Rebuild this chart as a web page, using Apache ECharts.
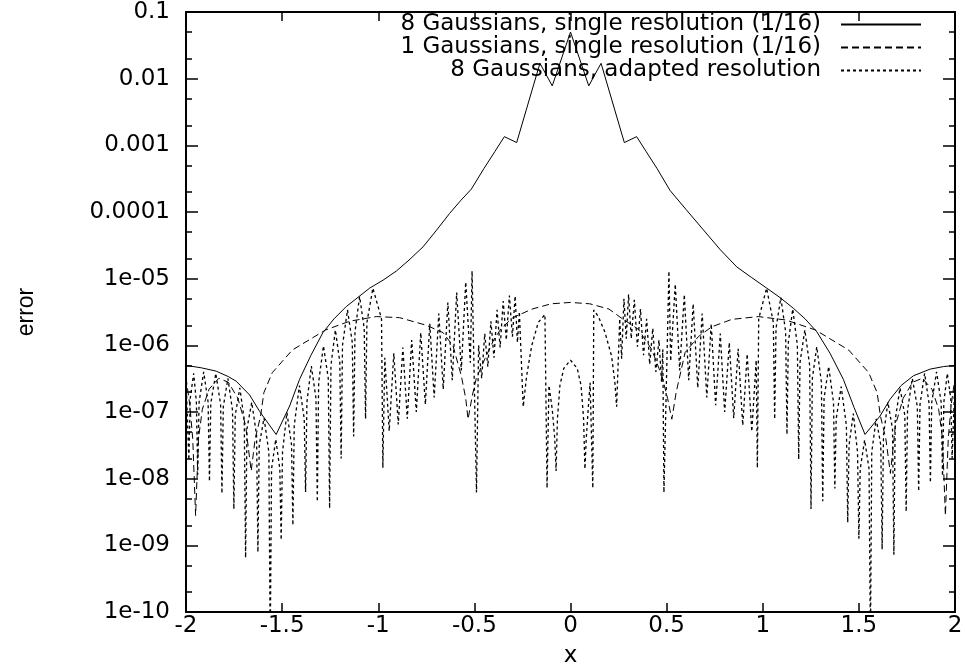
<!DOCTYPE html>
<html>
<head>
<meta charset="UTF-8">
<title>error vs x</title>
<script src="https://cdn.jsdelivr.net/npm/echarts@6/dist/echarts.min.js"></script>
<style>
  html, body { margin: 0; padding: 0; background: #fff; }
  #chart { width: 965px; height: 669px; }
</style>
</head>
<body>
<div id="chart"></div>
<script>
  // legend entries, in drawing order
  const seriesNames = [
    '8 Gaussians, single resolution (1/16)',
    '1 Gaussians, single resolution (1/16)',
    '8 Gaussians, adapted resolution'
  ];

  // y tick labels, from 1e-10 up to 0.1
  const yTickLabels = ['1e-10', '1e-09', '1e-08', '1e-07', '1e-06', '1e-05', '0.0001', '0.001', '0.01', '0.1'];
  const yMinorTicks = [2e-10, 5e-10, 2e-9, 5e-9, 2e-8, 5e-8, 2e-7, 5e-7, 2e-6, 5e-6,
                       2e-5, 5e-5, 2e-4, 5e-4, 2e-3, 5e-3, 2e-2, 5e-2];

  // 8 Gaussians, single resolution (solid)
  const single8 = [
    [-2.0, 5.0e-7], [-1.92, 4.6e-7], [-1.843, 4.1e-7], [-1.78, 3.4e-7], [-1.739, 2.9e-7],
    [-1.669, 1.8e-7], [-1.617, 1.02e-7], [-1.531, 4.6e-8], [-1.461, 1.23e-7], [-1.409, 3.1e-7],
    [-1.35, 7.1e-7], [-1.288, 1.55e-6], [-1.23, 2.5e-6], [-1.167, 3.8e-6], [-1.1, 5.4e-6],
    [-1.045, 7.2e-6], [-0.975, 9.5e-6], [-0.906, 1.3e-5], [-0.84, 1.9e-5], [-0.767, 3.0e-5],
    [-0.7, 5.2e-5], [-0.629, 9.5e-5], [-0.57, 1.5e-4], [-0.516, 2.2e-4], [-0.45, 4.5e-4],
    [-0.393, 8.1e-4], [-0.344, 1.35e-3], [-0.28, 1.1e-3], [-0.159, 1.7e-2], [-0.095, 7.8e-3],
    [0, 5.0e-2],
    [0.095, 7.8e-3], [0.159, 1.7e-2], [0.28, 1.1e-3], [0.344, 1.35e-3], [0.393, 8.1e-4],
    [0.45, 4.5e-4], [0.518, 2.1e-4], [0.6, 1.1e-4], [0.691, 5.4e-5], [0.78, 2.7e-5],
    [0.865, 1.5e-5], [0.94, 1.05e-5], [1.021, 7.2e-6], [1.09, 5.2e-6], [1.159, 3.6e-6],
    [1.22, 2.5e-6], [1.281, 1.6e-6], [1.35, 7.6e-7], [1.419, 3.1e-7], [1.475, 1.17e-7],
    [1.532, 4.6e-8], [1.61, 8.7e-8], [1.662, 1.55e-7], [1.72, 2.5e-7], [1.784, 3.5e-7],
    [1.871, 4.4e-7], [1.94, 4.8e-7], [2.0, 5.0e-7]
  ];

  // 1 Gaussian, single resolution (dashed)
  const single1 = [
    [-2.0, 3.3e-7], [-1.98, 1.26e-7], [-1.965, 4.0e-8], [-1.95, 2.8e-9], [-1.935, 4.0e-8],
    [-1.915, 1.1e-7], [-1.88, 2.2e-7], [-1.83, 3.2e-7], [-1.78, 2.8e-7], [-1.73, 1.6e-7],
    [-1.69, 6.3e-8], [-1.661, 1.3e-8], [-1.64, 4.0e-8], [-1.612, 8.7e-8], [-1.595, 1.95e-7],
    [-1.551, 3.9e-7], [-1.447, 8.5e-7], [-1.274, 1.7e-6], [-1.149, 2.3e-6], [-1.01, 2.7e-6],
    [-0.889, 2.6e-6], [-0.75, 2.0e-6], [-0.663, 1.55e-6], [-0.611, 9.8e-7], [-0.568, 3.5e-7],
    [-0.545, 1.6e-7], [-0.533, 7.8e-8], [-0.51, 1.8e-7], [-0.49, 3.2e-7], [-0.445, 6.3e-7],
    [-0.4, 1.2e-6], [-0.36, 1.8e-6], [-0.3, 2.6e-6], [-0.2, 3.5e-6], [-0.1, 4.2e-6],
    [0, 4.4e-6],
    [0.1, 4.2e-6], [0.2, 3.5e-6], [0.27, 2.5e-6], [0.353, 1.74e-6], [0.422, 8.7e-7],
    [0.475, 3.5e-7], [0.505, 1.6e-7], [0.527, 7.8e-8], [0.55, 2.0e-7], [0.596, 7.8e-7],
    [0.665, 1.35e-6], [0.735, 1.9e-6], [0.839, 2.45e-6], [0.977, 2.7e-6], [1.12, 2.4e-6],
    [1.274, 1.7e-6], [1.447, 8.5e-7], [1.551, 3.9e-7], [1.595, 1.95e-7], [1.612, 8.7e-8],
    [1.64, 4.0e-8], [1.664, 1.2e-8], [1.69, 6.3e-8], [1.73, 1.6e-7], [1.78, 2.8e-7],
    [1.83, 3.2e-7], [1.88, 2.2e-7], [1.915, 1.1e-7], [1.935, 4.0e-8], [1.95, 2.8e-9],
    [1.965, 4.0e-8], [1.98, 1.26e-7], [2.0, 3.3e-7]
  ];

  // 8 Gaussians, adapted resolution (dotted), read in pieces from left to right
  const adaptedOuterLeft = [
    [-2.0, 3.3e-7], [-1.985, 1.9e-8], [-1.978, 1.6e-7], [-1.96, 3.8e-7],
    [-1.946, 1.4e-7], [-1.939, 1.15e-8], [-1.932, 1.4e-7], [-1.908, 4.0e-7],
    [-1.885, 1.4e-7], [-1.878, 9.1e-9], [-1.871, 1.35e-7], [-1.845, 3.8e-7],
    [-1.82, 1.3e-7], [-1.813, 6.0e-9], [-1.806, 1.2e-7], [-1.782, 3.2e-7],
    [-1.758, 1.05e-7], [-1.751, 3.5e-9], [-1.744, 8.9e-8], [-1.72, 2.3e-7],
    [-1.697, 7.6e-8], [-1.69, 6.5e-10], [-1.683, 5.6e-8], [-1.658, 1.4e-7],
    [-1.633, 4.5e-8], [-1.626, 7.9e-10], [-1.619, 3.2e-8], [-1.594, 8.1e-8],
    [-1.569, 2.5e-8], [-1.562, 3e-11], [-1.555, 1.4e-8], [-1.533, 3.9e-8],
    [-1.512, 1.4e-8], [-1.505, 1.2e-9], [-1.498, 2.5e-8], [-1.475, 9.8e-8],
    [-1.451, 3.2e-8], [-1.444, 2.0e-9], [-1.437, 6.3e-8], [-1.41, 2.5e-7],
    [-1.385, 7.9e-8], [-1.378, 6.3e-9], [-1.371, 1.4e-7], [-1.348, 4.9e-7],
    [-1.324, 1.6e-7], [-1.317, 4.5e-9], [-1.31, 2.8e-7], [-1.285, 9.8e-7],
    [-1.26, 3.2e-7], [-1.253, 3.6e-9], [-1.246, 5.0e-7], [-1.223, 1.7e-6],
    [-1.2, 5.6e-7], [-1.193, 2.0e-8], [-1.186, 1.0e-6], [-1.16, 3.4e-6],
    [-1.135, 1.1e-6], [-1.128, 4.3e-8], [-1.121, 1.6e-6], [-1.097, 5.4e-6],
    [-1.073, 1.8e-6], [-1.066, 7.9e-8], [-1.059, 2.2e-6], [-1.028, 7.2e-6],
    [-0.983, 2.5e-6], [-0.976, 1.45e-8]
  ];
  const adaptedBandLeft = [
    [-0.966, 6.5e-7], [-0.943, 5.2e-8], [-0.919, 7.6e-7], [-0.896, 6.5e-8],
    [-0.872, 9.3e-7], [-0.849, 7.9e-8], [-0.826, 1.2e-6], [-0.802, 1.0e-7],
    [-0.779, 1.55e-6], [-0.755, 1.3e-7], [-0.732, 2.1e-6], [-0.709, 1.65e-7],
    [-0.685, 3.0e-6], [-0.662, 2.2e-7], [-0.638, 4.4e-6], [-0.615, 3.0e-7],
    [-0.592, 6.2e-6], [-0.568, 4.2e-7], [-0.545, 8.9e-6], [-0.521, 5.5e-7],
    [-0.512, 1.3e-5], [-0.489, 6.2e-9],
    [-0.478, 1.0e-6], [-0.462, 3.2e-7], [-0.446, 1.5e-6], [-0.43, 4.8e-7],
    [-0.414, 2.3e-6], [-0.398, 6.5e-7], [-0.382, 3.4e-6], [-0.366, 9.3e-7],
    [-0.35, 4.6e-6], [-0.334, 1.2e-6], [-0.318, 5.6e-6], [-0.302, 1.35e-6],
    [-0.288, 5.5e-6], [-0.276, 1.1e-6], [-0.266, 3.2e-6], [-0.246, 1.2e-7]
  ];
  const adaptedCentre = [
    [-0.228, 3.5e-7], [-0.202, 9.8e-7], [-0.168, 2.2e-6], [-0.133, 2.9e-6],
    [-0.126, 3.0e-6], [-0.122, 7.2e-9], [-0.112, 2.5e-7], [-0.095, 1.1e-7],
    [-0.082, 4.0e-8], [-0.075, 1.3e-8], [-0.068, 7.9e-8], [-0.055, 2.5e-7],
    [-0.035, 4.5e-7], [0, 6.0e-7], [0.035, 4.5e-7], [0.055, 2.5e-7],
    [0.068, 7.9e-8], [0.075, 1.4e-8], [0.082, 4.0e-8], [0.092, 1.1e-7],
    [0.102, 2.75e-7], [0.116, 7.2e-9], [0.121, 3.4e-6], [0.145, 2.7e-6],
    [0.18, 1.55e-6], [0.214, 6.8e-7], [0.231, 2.75e-7], [0.24, 1.2e-7]
  ];
  const adaptedBandRight = [
    [0.256, 2.5e-6], [0.266, 6.3e-7], [0.278, 5.0e-6], [0.29, 1.26e-6],
    [0.302, 5.8e-6], [0.316, 1.26e-6], [0.332, 4.8e-6], [0.348, 9.5e-7],
    [0.364, 3.5e-6], [0.38, 7.1e-7], [0.396, 2.5e-6], [0.412, 5.2e-7],
    [0.428, 1.8e-6], [0.444, 4.0e-7], [0.46, 1.2e-6], [0.474, 2.8e-7],
    [0.48, 8.7e-7], [0.486, 6.2e-9],
    [0.512, 1.3e-5], [0.521, 5.8e-7], [0.545, 8.3e-6], [0.568, 4.2e-7],
    [0.592, 5.8e-6], [0.615, 3.0e-7], [0.638, 4.2e-6], [0.662, 2.3e-7],
    [0.685, 3.0e-6], [0.709, 1.65e-7], [0.732, 2.1e-6], [0.755, 1.26e-7],
    [0.779, 1.5e-6], [0.802, 1.0e-7], [0.826, 1.1e-6], [0.849, 8.1e-8],
    [0.872, 8.9e-7], [0.896, 6.3e-8], [0.919, 7.4e-7], [0.943, 5.1e-8],
    [0.966, 6.0e-7], [0.972, 1.45e-8]
  ];
  const adaptedOuterRight = [
    [0.979, 2.5e-6], [1.02, 7.2e-6],
    [1.055, 2.2e-6], [1.062, 7.8e-8], [1.069, 1.8e-6], [1.094, 5.2e-6],
    [1.119, 1.6e-6], [1.126, 4.6e-8], [1.133, 1.1e-6], [1.156, 3.5e-6],
    [1.18, 1.0e-6], [1.187, 1.95e-8], [1.194, 5.6e-7], [1.219, 1.7e-6],
    [1.244, 5.0e-7], [1.251, 3.5e-9], [1.258, 3.2e-7], [1.281, 9.5e-7],
    [1.305, 2.8e-7], [1.312, 4.6e-9], [1.319, 1.6e-7], [1.343, 4.8e-7],
    [1.368, 1.4e-7], [1.375, 7.1e-9], [1.382, 7.9e-8], [1.408, 2.4e-7],
    [1.435, 6.3e-8], [1.442, 2.2e-9], [1.449, 3.2e-8], [1.471, 9.5e-8],
    [1.493, 2.5e-8], [1.5, 1.26e-9], [1.507, 1.4e-8], [1.53, 3.8e-8],
    [1.553, 1.4e-8], [1.56, 3e-11], [1.567, 2.5e-8], [1.59, 7.9e-8],
    [1.614, 3.2e-8], [1.621, 8.7e-10], [1.628, 4.5e-8], [1.651, 1.4e-7],
    [1.675, 5.6e-8], [1.682, 7.2e-10], [1.689, 7.6e-8], [1.714, 2.3e-7],
    [1.739, 8.9e-8], [1.746, 3.2e-9], [1.753, 1.05e-7], [1.778, 3.2e-7],
    [1.804, 1.2e-7], [1.811, 6.5e-9], [1.818, 1.3e-7], [1.842, 3.8e-7],
    [1.865, 1.35e-7], [1.872, 8.7e-9], [1.879, 1.4e-7], [1.904, 4.0e-7],
    [1.928, 1.4e-7], [1.935, 1.1e-8], [1.942, 1.4e-7], [1.96, 3.8e-7],
    [1.978, 1.6e-7], [1.985, 2.0e-8], [2.0, 3.3e-7]
  ];
  const adapted8 = [].concat(adaptedOuterLeft, adaptedBandLeft, adaptedCentre,
                             adaptedBandRight, adaptedOuterRight);

  // the reference text is a horizontally stretched Helvetica; DejaVu Sans matches its widths
  const wideFont = '"DejaVu Sans", sans-serif';
  const narrowFont = '"Liberation Sans", Arial, sans-serif';
  const yMin = 1e-10, yMax = 0.1;

  function yLabel(v) {
    const e = Math.round(Math.log10(v));
    return yTickLabels[e + 10] || '';
  }

  // log axes: major ticks with labels, plus a second copy carrying the minor ticks
  function logAxis(position, major) {
    return {
      type: 'log', logBase: 10, min: yMin, max: yMax, position: position,
      name: (major && position === 'left') ? 'error' : '',
      nameLocation: 'middle', nameGap: 148, nameRotate: 90,
      nameTextStyle: { fontFamily: narrowFont, fontSize: 23, color: '#000' },
      axisLine: { show: major, onZero: false, lineStyle: { color: '#000', width: 2 } },
      axisTick: major
        ? { show: true, inside: true, length: 12, lineStyle: { color: '#000', width: 1.5 } }
        : { show: true, inside: true, length: 6, customValues: yMinorTicks,
            lineStyle: { color: '#000', width: 1.5 } },
      axisLabel: {
        show: major && position === 'left', margin: 16, formatter: yLabel,
        fontFamily: wideFont, fontSize: 23, color: '#000'
      },
      splitLine: { show: false },
      minorTick: { show: false }
    };
  }

  function xAxisDef(position) {
    const bottom = position === 'bottom';
    return {
      type: 'value', min: -2, max: 2, interval: 0.5, position: position,
      name: bottom ? 'x' : '', nameLocation: 'middle', nameGap: 33,
      nameTextStyle: { fontFamily: wideFont, fontSize: 23, color: '#000' },
      axisLine: { onZero: false, lineStyle: { color: '#000', width: 2 } },
      axisTick: { inside: true, length: 9, lineStyle: { color: '#000', width: 1.5 } },
      axisLabel: { show: bottom, margin: 3, fontFamily: wideFont, fontSize: 23, color: '#000' },
      splitLine: { show: false }
    };
  }

  const chart = echarts.init(document.getElementById('chart'), null, { renderer: 'canvas' });
  chart.setOption({
    animation: false,
    backgroundColor: '#fff',
    grid: { left: 186, right: 10, top: 12, bottom: 57, containLabel: false, outerBoundsMode: 'none' },
    legend: {
      orient: 'vertical', right: 43, top: 13, padding: 0,
      align: 'right', itemWidth: 80, itemHeight: 14, itemGap: 0,
      itemStyle: { opacity: 0, borderWidth: 0 },
      textStyle: { fontFamily: wideFont, fontSize: 23, lineHeight: 23, color: '#000', padding: [0, 15, 0, 0] },
      data: seriesNames
    },
    xAxis: [xAxisDef('bottom'), xAxisDef('top')],
    yAxis: [
      logAxis('left', true),
      logAxis('left', false),
      logAxis('right', true),
      logAxis('right', false)
    ],
    series: [
      {
        name: seriesNames[0], type: 'line', data: single8,
        symbol: 'none', showSymbol: false, color: '#000',
        lineStyle: { color: '#000', width: 1 }
      },
      {
        name: seriesNames[1], type: 'line', data: single1,
        symbol: 'none', showSymbol: false, color: '#000',
        lineStyle: { color: '#000', width: 1, type: [7, 4] }
      },
      {
        name: seriesNames[2], type: 'line', data: adapted8,
        symbol: 'none', showSymbol: false, color: '#000',
        lineStyle: { color: '#000', width: 1.3, type: [3, 3] }
      }
    ]
  });
</script>
</body>
</html>
